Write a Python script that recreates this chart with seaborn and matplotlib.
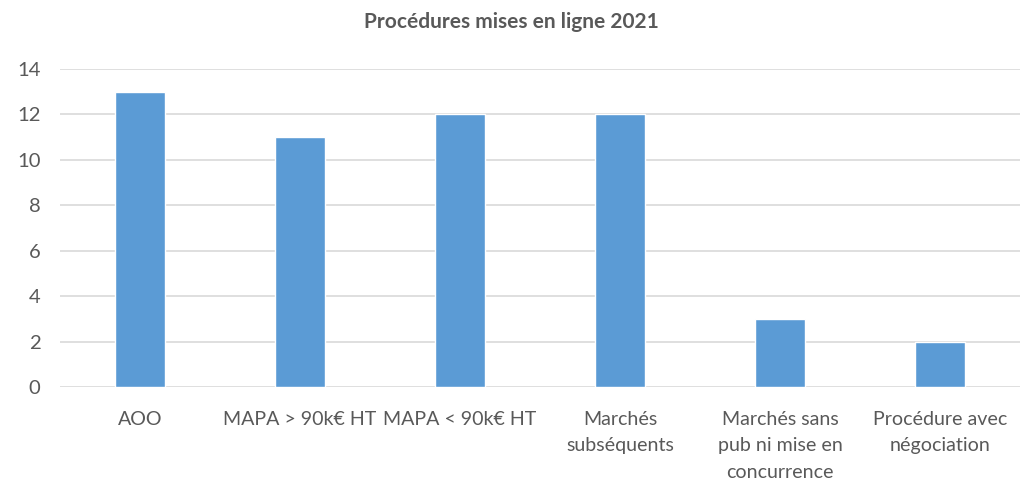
import seaborn as sns
import matplotlib.pyplot as plt
import pandas as pd

categories = ['AOO', 'MAPA > 90k€ HT', 'MAPA < 90k€ HT', 'Marchés\nsubséquents',
              'Marchés sans\npub ni mise en\nconcurrence', 'Procédure avec\nnégociation']
values = [13, 11, 12, 12, 3, 2]
yticks = [0, 2, 4, 6, 8, 10, 12, 14]

df = pd.DataFrame({'procedure': categories, 'nombre': values})

sns.set_style('white')
plt.rcParams['font.family'] = ['Lato', 'DejaVu Sans']

fig = plt.figure(figsize=(10.23, 4.84), dpi=100)
ax = fig.add_axes([0.0587, 0.2004, 0.9383, 0.657])
sns.barplot(data=df, x='procedure', y='nombre', color='#5B9BD5', width=0.31,
            saturation=1, ax=ax, zorder=3)

ax.set_ylim(0, 14)
ax.set_yticks(yticks)
ax.set_xlim(-0.5, len(categories) - 0.5)
ax.yaxis.grid(True, color='#D9D9D9', linewidth=1.2, zorder=0)
ax.set_axisbelow(True)
for s in ax.spines.values():
    s.set_visible(False)
ax.tick_params(axis='both', length=0, labelsize=14.6, labelcolor='#595959')
ax.tick_params(axis='x', pad=17, labelsize=14.1)
ax.tick_params(axis='y', pad=14)
for lbl in ax.get_xticklabels():
    lbl.set_linespacing(1.7)
ax.set_xlabel('')
ax.set_ylabel('')
fig.suptitle('Procédures mises en ligne 2021', x=0.5, y=0.975, fontsize=15,
             fontweight='bold', color='#595959')

plt.savefig('out.png', dpi=100)
